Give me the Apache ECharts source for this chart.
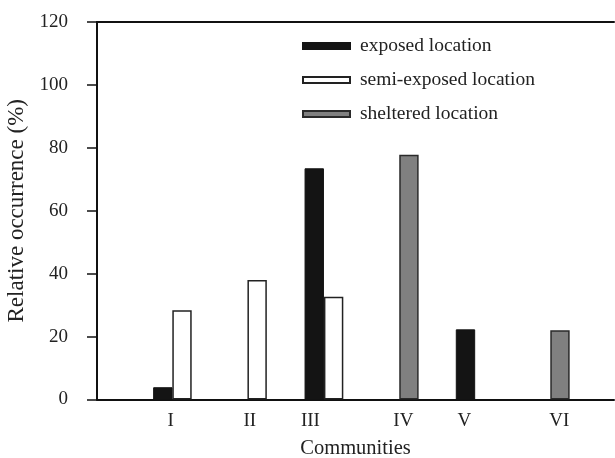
<!DOCTYPE html>
<html>
<head>
<meta charset="utf-8">
<script src="https://cdn.jsdelivr.net/npm/echarts@6/dist/echarts.min.js"></script>
<style>
  html, body { margin: 0; padding: 0; background: #fff; }
  #chart { width: 615px; height: 458px; }
</style>
</head>
<body>
<div id="chart"></div>
<script>
// communities and where their labels sit along the x axis (in bar-slot units)
var communities = ['I', 'II', 'III', 'IV', 'V', 'VI'];
var labelPos = [3.81, 7.89, 11.02, 15.82, 18.97, 23.87];

// bars: [slot position, relative occurrence %]
var exposed = [[3.40, 3.9], [11.22, 73.5], [19.03, 22.3]];
var semiExposed = [[4.39, 28.4], [8.27, 38.0], [12.22, 32.7]];
var sheltered = [[16.11, 77.8], [23.91, 22.0]];

var serif = 'Liberation Serif';

var chart = echarts.init(document.getElementById('chart'));
var option = {
    animation: false,
    textStyle: { fontFamily: serif, color: '#222' },
    grid: { left: 97, right: 1, top: 22, bottom: 58.5, outerBoundsMode: 'none', containLabel: false },
    legend: {
        orient: 'vertical',
        left: 302,
        top: 36,
        padding: 0,
        icon: 'rect',
        itemWidth: 47,
        itemHeight: 6,
        itemGap: 14,
        textStyle: { fontFamily: serif, fontSize: 19.5, color: '#222', padding: [0, 0, 0, 5] },
        data: ['exposed location', 'semi-exposed location', 'sheltered location']
    },
    xAxis: [
        {
            type: 'value',
            min: 0,
            max: 26.7,
            name: 'Communities',
            nameLocation: 'middle',
            nameGap: 39,
            nameTextStyle: { fontFamily: serif, fontSize: 20.5, color: '#222' },
            splitLine: { show: false },
            axisTick: { show: false },
            axisLine: { lineStyle: { color: '#111', width: 2 } },
            axisLabel: {
                customValues: labelPos,
                margin: 12,
                fontSize: 19,
                color: '#222',
                fontFamily: serif,
                formatter: function (v) {
                    var i = labelPos.indexOf(v);
                    return i >= 0 ? communities[i] : '';
                }
            }
        },
        {
            type: 'value',
            position: 'top',
            min: 0,
            max: 26.7,
            splitLine: { show: false },
            axisTick: { show: false },
            axisLabel: { show: false },
            axisLine: { show: true, lineStyle: { color: '#111', width: 2 } }
        }
    ],
    yAxis: {
        type: 'value',
        min: 0,
        max: 120,
        interval: 20,
        name: 'Relative occurrence (%)',
        nameLocation: 'middle',
        nameGap: 60,
        nameTextStyle: { fontFamily: serif, fontSize: 23, color: '#222' },
        splitLine: { show: false },
        axisLine: { show: true, lineStyle: { color: '#111', width: 2 } },
        axisTick: { show: true, length: 10, lineStyle: { color: '#111', width: 1.5 } },
        axisLabel: { margin: 29, fontSize: 19, color: '#222', fontFamily: serif }
    },
    series: [
        {
            name: 'exposed location',
            type: 'bar',
            barWidth: 19.4,
            barGap: '-100%',
            itemStyle: { color: '#141414', borderColor: '#141414', borderWidth: 1 },
            data: exposed
        },
        {
            name: 'semi-exposed location',
            type: 'bar',
            barWidth: 19.4,
            barGap: '-100%',
            itemStyle: { color: '#ffffff', borderColor: '#222', borderWidth: 1.5 },
            data: semiExposed
        },
        {
            name: 'sheltered location',
            type: 'bar',
            barWidth: 19.4,
            barGap: '-100%',
            itemStyle: { color: '#808080', borderColor: '#2a2a2a', borderWidth: 1.5 },
            data: sheltered
        }
    ]
};
chart.setOption(option);
</script>
</body>
</html>
